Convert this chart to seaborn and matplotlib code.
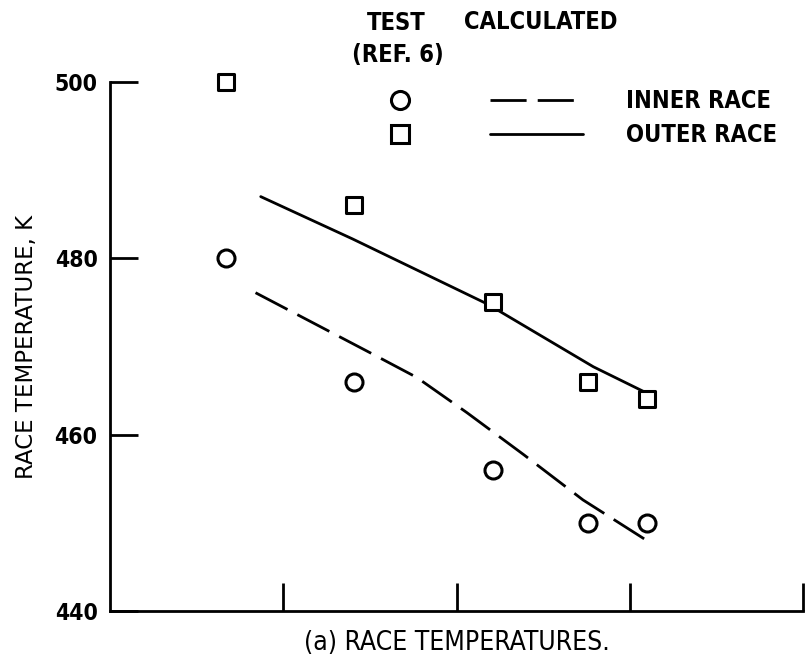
import numpy as np
import pandas as pd
import matplotlib
matplotlib.use("Agg")
import matplotlib.pyplot as plt
import seaborn as sns
from matplotlib.lines import Line2D
from matplotlib.legend_handler import HandlerTuple
from matplotlib import font_manager
from matplotlib.font_manager import FontProperties

# ---- data ----
test_x = [0.67, 1.41, 2.21, 2.76, 3.10]
inner_test = [480.0, 466.0, 456.0, 450.0, 450.0]
outer_test = [500.0, 486.0, 475.0, 466.0, 464.0]

outer_calc_x = [0.87, 1.40, 2.18, 2.79, 3.09]
outer_calc_y = [487.0, 482.2, 474.8, 467.7, 464.8]

inner_calc_x = [0.84, 1.52, 1.77, 2.06, 2.39, 2.73, 3.09]
inner_calc_y = [476.1, 469.1, 466.5, 462.5, 457.7, 452.6, 448.1]

y_ticks = [440, 460, 480, 500]
x_ticks = [1, 2, 3, 4]

sns.set_theme(style="white")
plt.rcParams.update({"text.color": "black", "axes.labelcolor": "black",
                     "xtick.color": "black", "ytick.color": "black"})
plt.rcParams["font.family"] = ["Liberation Sans", "DejaVu Sans"]


def pick_condensed(bold=True):
    best = None
    for f in font_manager.fontManager.ttflist:
        nm = f.name.lower()
        st = str(f.stretch).lower()
        cond = ("condensed" in st or "narrow" in nm or "condensed" in nm
                or (isinstance(f.stretch, (int, float)) and f.stretch < 500))
        if not cond or "semi" in st or "mono" in nm or "cjk" in nm:
            continue
        if str(f.style) != "normal":
            continue
        w = f.weight if isinstance(f.weight, (int, float)) else (700 if "bold" in str(f.weight) else 400)
        score = -abs(w - (700 if bold else 400))
        if "extra" in st or "ultra" in st:
            score -= 50
        if best is None or score > best[0]:
            best = (score, f.fname)
    return best[1] if best else None


cb = pick_condensed(True)
cr = pick_condensed(False)


def fp(size, bold=True):
    path = cb if bold else cr
    if path:
        return FontProperties(fname=path, size=size)
    return FontProperties(family=["Liberation Sans", "DejaVu Sans"],
                          weight="bold" if bold else "normal", stretch="condensed", size=size)


fig = plt.figure(figsize=(8.05, 6.58), dpi=100)
ax = fig.add_axes([110 / 805, 1 - 611 / 658, 693 / 805, 529 / 658])

LW = 2.0
df_in = pd.DataFrame({"x": inner_calc_x, "y": inner_calc_y})
df_out = pd.DataFrame({"x": outer_calc_x, "y": outer_calc_y})
sns.lineplot(data=df_out, x="x", y="y", ax=ax, color="black", lw=LW)
sns.lineplot(data=df_in, x="x", y="y", ax=ax, color="black", lw=LW)
ax.lines[1].set_dashes((13, 4))

df_ti = pd.DataFrame({"x": test_x, "y": inner_test})
df_to = pd.DataFrame({"x": test_x, "y": outer_test})
sns.scatterplot(data=df_ti, x="x", y="y", ax=ax, marker="o", s=150,
                facecolor="white", edgecolor="black", linewidth=2.2, zorder=3)
sns.scatterplot(data=df_to, x="x", y="y", ax=ax, marker="s", s=140,
                facecolor="white", edgecolor="black", linewidth=2.2, zorder=3)
for c in ax.collections:
    c.set_clip_on(False)

ax.set_xlim(0, 4)
ax.set_ylim(440, 500)
ax.set_xticks(x_ticks)
ax.set_xticklabels([])
ax.set_yticks(y_ticks)
ax.set_yticklabels([str(v) for v in y_ticks])
for t in ax.get_yticklabels():
    t.set_fontproperties(fp(16.5))
ax.tick_params(axis="both", direction="in", length=20, width=2.0, color="black",
               left=True, bottom=True, pad=9)
for side in ["top", "right"]:
    ax.spines[side].set_visible(False)
for side in ["left", "bottom"]:
    ax.spines[side].set_linewidth(2.0)
    ax.spines[side].set_color("black")

ax.set_ylabel("RACE TEMPERATURE, K", fontsize=16.5, family=["DejaVu Sans"],
              labelpad=12)
ax.set_xlabel("(a) RACE TEMPERATURES.", fontproperties=fp(19, bold=False), labelpad=5)

# legend
h_ci = Line2D([], [], marker="o", linestyle="none", markersize=13,
              markerfacecolor="white", markeredgecolor="black", markeredgewidth=2.2)
h_sq = Line2D([], [], marker="s", linestyle="none", markersize=12.5,
              markerfacecolor="white", markeredgecolor="black", markeredgewidth=2.2)
h_da = Line2D([], [], color="black", lw=LW, dashes=(13, 4))
h_so = Line2D([], [], color="black", lw=LW)
leg = ax.legend([(h_ci, h_da), (h_sq, h_so)], ["INNER RACE", "OUTER RACE"],
                handler_map={tuple: HandlerTuple(ndivide=None, pad=1.84)},
                handlelength=9.7, handletextpad=1.86, labelspacing=0.42,
                borderpad=0, borderaxespad=0, frameon=False,
                loc="upper left", bbox_to_anchor=(353.5 / 805, 1 - 89 / 658),
                bbox_transform=fig.transFigure, prop=fp(17))

fig.text(396 / 805, 1 - 23 / 658, "TEST", ha="center", va="center", fontproperties=fp(17))
fig.text(398 / 805, 1 - 55 / 658, "(REF. 6)", ha="center", va="center", fontproperties=fp(17))
fig.text(541 / 805, 1 - 22 / 658, "CALCULATED", ha="center", va="center", fontproperties=fp(17))

fig.savefig("out.png", dpi=100, facecolor="white")
